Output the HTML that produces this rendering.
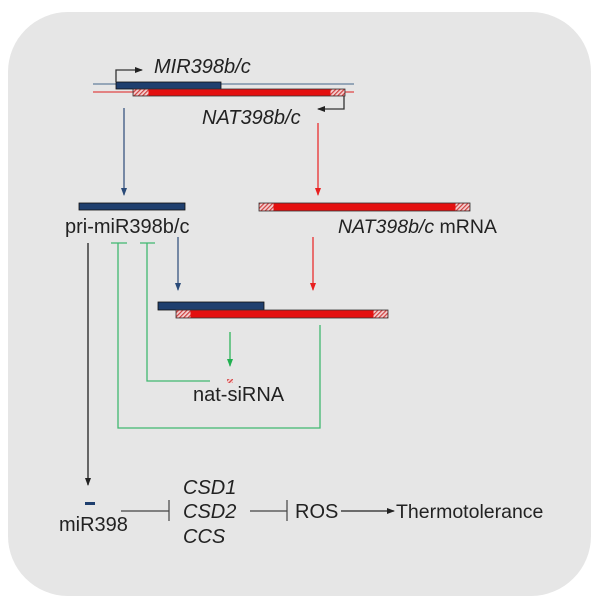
<!DOCTYPE html>
<html><head><meta charset="utf-8"><style>
body{margin:0;background:#fff}
svg{display:block}
text{font-family:"Liberation Sans",sans-serif;fill:#222}
</style></head><body>
<svg width="600" height="603" viewBox="0 0 600 603">
<defs>
<pattern id="h" width="3" height="3" patternUnits="userSpaceOnUse" patternTransform="rotate(45)">
<rect width="3" height="3" fill="#f4d0d0"/><rect width="1.2" height="3" fill="#d04040"/></pattern>
<marker id="ab" markerWidth="8" markerHeight="8" refX="7" refY="4" orient="auto" markerUnits="userSpaceOnUse"><path d="M0,1 L8,4 L0,7z" fill="#2a4a78"/></marker>
<marker id="ar" markerWidth="8" markerHeight="8" refX="7" refY="4" orient="auto" markerUnits="userSpaceOnUse"><path d="M0,1 L8,4 L0,7z" fill="#e82020"/></marker>
<marker id="ag" markerWidth="8" markerHeight="8" refX="7" refY="4" orient="auto" markerUnits="userSpaceOnUse"><path d="M0,1 L8,4 L0,7z" fill="#20b050"/></marker>
<marker id="ak" markerWidth="8" markerHeight="8" refX="7" refY="4" orient="auto" markerUnits="userSpaceOnUse"><path d="M0,1 L8,4 L0,7z" fill="#222"/></marker>
</defs>
<rect x="8" y="12" width="583" height="584" rx="60" fill="#e6e6e6"/>
<line x1="93" y1="84" x2="354" y2="84" stroke="#7a90a8" stroke-width="1.5"/>
<line x1="93" y1="92" x2="354" y2="92" stroke="#e06060" stroke-width="1.5"/>
<rect x="116" y="82" width="105" height="7" fill="#1f3f6e" stroke="#111" stroke-width="0.8"/>
<rect x="133" y="89" width="212" height="7" fill="#e41010" stroke="#333" stroke-width="0.8"/>
<rect x="133.5" y="89.5" width="15" height="6" fill="url(#h)"/>
<rect x="330.5" y="89.5" width="14" height="6" fill="url(#h)"/>
<path d="M116,82 V70 H142" fill="none" stroke="#333" stroke-width="1.3" marker-end="url(#ak)"/>
<path d="M344,96 V109 H318" fill="none" stroke="#333" stroke-width="1.3" marker-end="url(#ak)"/>
<text x="154" y="73" font-size="20" font-style="italic">MIR398b/c</text>
<text x="202" y="124" font-size="20" font-style="italic">NAT398b/c</text>
<line x1="124" y1="108" x2="124" y2="195" stroke="#2a4a78" stroke-width="1.2" marker-end="url(#ab)"/>
<line x1="318" y1="123" x2="318" y2="195" stroke="#e82020" stroke-width="1.2" marker-end="url(#ar)"/>
<rect x="79" y="203" width="106" height="7" fill="#1f3f6e" stroke="#111" stroke-width="0.8"/>
<text x="65" y="233" font-size="20">pri-miR398b/c</text>
<rect x="259" y="203" width="211" height="8" fill="#e41010" stroke="#333" stroke-width="0.8"/>
<rect x="259.5" y="203.5" width="14" height="7" fill="url(#h)"/>
<rect x="455.5" y="203.5" width="14" height="7" fill="url(#h)"/>
<text x="338" y="233" font-size="19.5"><tspan font-style="italic">NAT398b/c</tspan> mRNA</text>
<line x1="178" y1="237" x2="178" y2="290" stroke="#2a4a78" stroke-width="1.2" marker-end="url(#ab)"/>
<line x1="313" y1="237" x2="313" y2="290" stroke="#e82020" stroke-width="1.2" marker-end="url(#ar)"/>
<rect x="158" y="302" width="106" height="8" fill="#1f3f6e" stroke="#111" stroke-width="0.8"/>
<rect x="176" y="310" width="212" height="8" fill="#e41010" stroke="#333" stroke-width="0.8"/>
<rect x="176.5" y="310.5" width="14" height="7" fill="url(#h)"/>
<rect x="373.5" y="310.5" width="14" height="7" fill="url(#h)"/>
<line x1="230" y1="332" x2="230" y2="366" stroke="#20b050" stroke-width="1.2" marker-end="url(#ag)"/>
<rect x="227" y="379" width="6" height="4" fill="url(#h)"/>
<text x="193" y="401" font-size="20">nat-siRNA</text>
<path d="M320,325 V428 H118 V243 M111,243 H127" fill="none" stroke="#40b870" stroke-width="1.3"/>
<path d="M210,381 H147 V243 M140,243 H155" fill="none" stroke="#40b870" stroke-width="1.3"/>
<line x1="88" y1="243" x2="88" y2="485" stroke="#222" stroke-width="1.3" marker-end="url(#ak)"/>
<rect x="85" y="502" width="10" height="3" fill="#1f3f6e"/>
<text x="59" y="531" font-size="20">miR398</text>
<line x1="121" y1="511" x2="169" y2="511" stroke="#444" stroke-width="1.2"/>
<line x1="169" y1="500" x2="169" y2="521" stroke="#444" stroke-width="1.2"/>
<text x="183" y="494" font-size="20" font-style="italic">CSD1</text>
<text x="183" y="518" font-size="20" font-style="italic">CSD2</text>
<text x="183" y="543" font-size="20" font-style="italic">CCS</text>
<line x1="250" y1="511" x2="287" y2="511" stroke="#444" stroke-width="1.2"/>
<line x1="287" y1="500" x2="287" y2="521" stroke="#444" stroke-width="1.2"/>
<text x="295" y="518" font-size="20">ROS</text>
<line x1="341" y1="511" x2="394" y2="511" stroke="#222" stroke-width="1.2" marker-end="url(#ak)"/>
<text x="396" y="518" font-size="19.5">Thermotolerance</text>
</svg>
</body></html>
